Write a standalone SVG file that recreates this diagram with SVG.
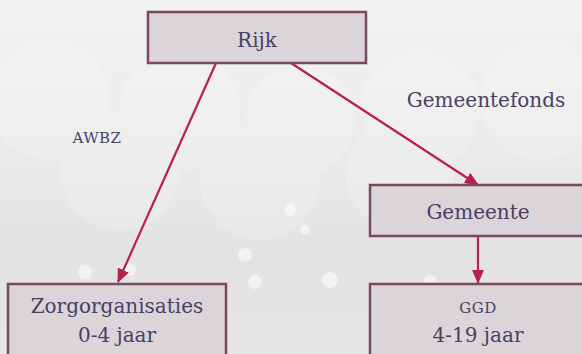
<svg xmlns="http://www.w3.org/2000/svg" width="582" height="354" viewBox="0 0 582 354">
<defs>
<linearGradient id="bg" x1="0" y1="0" x2="0" y2="1">
<stop offset="0" stop-color="#f2f2f2"/>
<stop offset="0.45" stop-color="#eaeaea"/>
<stop offset="0.7" stop-color="#e3e3e3"/>
<stop offset="1" stop-color="#e6e6e6"/>
</linearGradient>
<marker id="ah" markerWidth="14" markerHeight="12" viewBox="0 0 14 12" refX="13" refY="6" orient="auto" markerUnits="userSpaceOnUse">
<path d="M0,0 L14,6 L0,12 Z" fill="#b8204f"/>
</marker>
<style>
.box{fill:#dbd5d9;stroke:#7a4862;stroke-width:2.5}
.t{font-family:"DejaVu Serif","Liberation Serif",serif;fill:#4a4060;text-anchor:middle}
.c{fill:none;stroke:#b8204f;stroke-width:2.2;marker-end:url(#ah)}
.b{fill:#ffffff}
</style>
</defs>
<rect width="582" height="354" fill="url(#bg)"/>
<g opacity="0.18">
<circle class="b" cx="50" cy="100" r="60"/>
<circle class="b" cx="180" cy="110" r="60"/>
<circle class="b" cx="300" cy="120" r="55"/>
<circle class="b" cx="420" cy="110" r="60"/>
<circle class="b" cx="540" cy="100" r="60"/>
<circle class="b" cx="120" cy="170" r="60"/>
<circle class="b" cx="260" cy="180" r="60"/>
<circle class="b" cx="400" cy="175" r="55"/>
</g>
<g opacity="0.55">
<circle class="b" cx="85" cy="272" r="7"/>
<circle class="b" cx="130" cy="270" r="6"/>
<circle class="b" cx="245" cy="255" r="7"/>
<circle class="b" cx="255" cy="282" r="7"/>
<circle class="b" cx="330" cy="280" r="8"/>
<circle class="b" cx="430" cy="282" r="7"/>
<circle class="b" cx="290" cy="210" r="6"/>
<circle class="b" cx="305" cy="230" r="5"/>
</g>
<g id="connectors">
<line class="c" x1="216" y1="63" x2="118" y2="282"/>
<line class="c" x1="291" y1="63" x2="478" y2="185"/>
<line class="c" x1="478" y1="236" x2="478" y2="283"/>
</g>
<g id="rijk">
<rect class="box" x="148" y="12" width="218" height="51"/>
<text class="t" x="257" y="47" font-size="20">Rijk</text>
</g>
<g id="label-gemeentefonds">
<text class="t" x="486" y="107" font-size="20">Gemeentefonds</text>
</g>
<g id="label-awbz">
<text class="t" x="97" y="143" font-size="15" letter-spacing="0.5">AWBZ</text>
</g>
<g id="gemeente">
<rect class="box" x="370" y="185" width="218" height="51"/>
<text class="t" x="478" y="219" font-size="20">Gemeente</text>
</g>
<g id="zorgorganisaties">
<rect class="box" x="8" y="284" width="218" height="90"/>
<text class="t" x="117" y="313" font-size="20">Zorgorganisaties</text>
<text class="t" x="117" y="342" font-size="20">0-4 jaar</text>
</g>
<g id="ggd">
<rect class="box" x="370" y="284" width="218" height="90"/>
<text class="t" x="478" y="313" font-size="15" letter-spacing="0.5">GGD</text>
<text class="t" x="478" y="342" font-size="20">4-19 jaar</text>
</g>
</svg>
